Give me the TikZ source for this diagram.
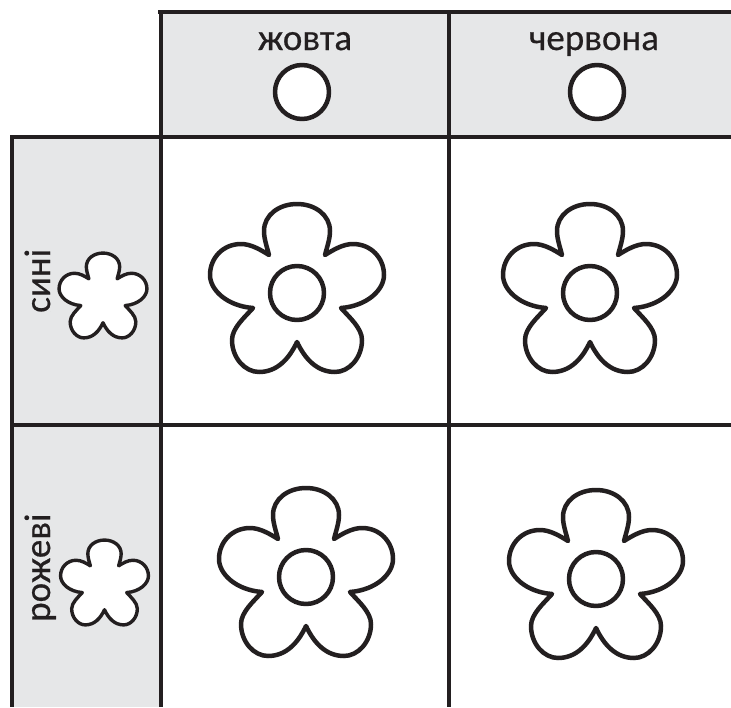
\documentclass[tikz,border=0pt]{standalone}
\usepackage{fontspec}
\setmainfont{Carlito}
\newfontfamily\labelfont[FakeBold=0.5]{Carlito}
\definecolor{ink}{HTML}{231F20}
\definecolor{panel}{HTML}{E6E7E8}
\tikzset{
  x=1pt,y=-1pt,
  gridline/.style={draw=ink,line width=4.4pt},
  flowerline/.style={draw=ink,line width=#1,fill=white,line join=round},
  flowerline/.default=4.5pt,
  label/.style={text=ink,font=\labelfont\fontsize{37}{37}\selectfont,inner sep=0pt},
  pics/flower/.style={code={
    \path[pic actions]
      (-28,-38) .. controls (-30,-46) and (-33,-54) .. (-33,-62)
      .. controls (-33,-78) and (-18,-89) .. (0,-89)
      .. controls (18,-89) and (33,-78) .. (33,-62)
      .. controls (33,-54) and (30,-46) .. (28,-38)
      .. controls (36,-43) and (46,-49) .. (56,-49)
      .. controls (74,-49) and (87,-35) .. (87,-18)
      .. controls (87,-3) and (70,13) .. (44,15)
      .. controls (52,24) and (65,35) .. (65,47)
      .. controls (65,65) and (52,79) .. (38,79)
      .. controls (20,79) and (8,66) .. (0,49)
      .. controls (-8,66) and (-20,79) .. (-38,79)
      .. controls (-52,79) and (-65,65) .. (-65,47)
      .. controls (-65,35) and (-52,24) .. (-44,15)
      .. controls (-70,13) and (-87,-3) .. (-87,-18)
      .. controls (-87,-35) and (-74,-49) .. (-56,-49)
      .. controls (-46,-49) and (-36,-43) .. (-28,-38) -- cycle;
  }}
}
\begin{document}
\begin{tikzpicture}
\useasboundingbox (0,0) rectangle (731,707);
\fill[panel] (161,12) rectangle (731,137);
\fill[panel] (12,137) rectangle (161,707);
% grid
\draw[gridline] (158,12) -- (731,12);
\draw[gridline] (10,137) -- (731,137);
\draw[gridline] (10,425) -- (731,425);
\draw[gridline] (12,137) -- (12,707);
\draw[gridline] (161,12) -- (161,707);
\draw[gridline] (449,12) -- (449,707);
% headers
\node[label,anchor=base] (yellow) at (305,50) {жовта};
\node[label,anchor=base] (red) at (594,50) {червона};
\draw[flowerline] (302,92) circle (27);
\draw[flowerline] (597,92) circle (27);
% side labels
\node[label,rotate=90,anchor=base west] (blue) at (50,313) {сині};
\node[label,rotate=90,anchor=base west] (pink) at (50,622) {рожеві};
\pic[flowerline=3.4pt,scale=0.505,transform shape] at (103,298) {flower};
\pic[flowerline=3.4pt,scale=0.505,transform shape] at (104.5,585) {flower};
% large flowers
\foreach \cx/\cy in {297/293,590/293,306/577,596/579}{
  \pic[flowerline] at (\cx,\cy) {flower};
  \draw[flowerline] (\cx,\cy) circle (27);
}
\end{tikzpicture}
\end{document}
